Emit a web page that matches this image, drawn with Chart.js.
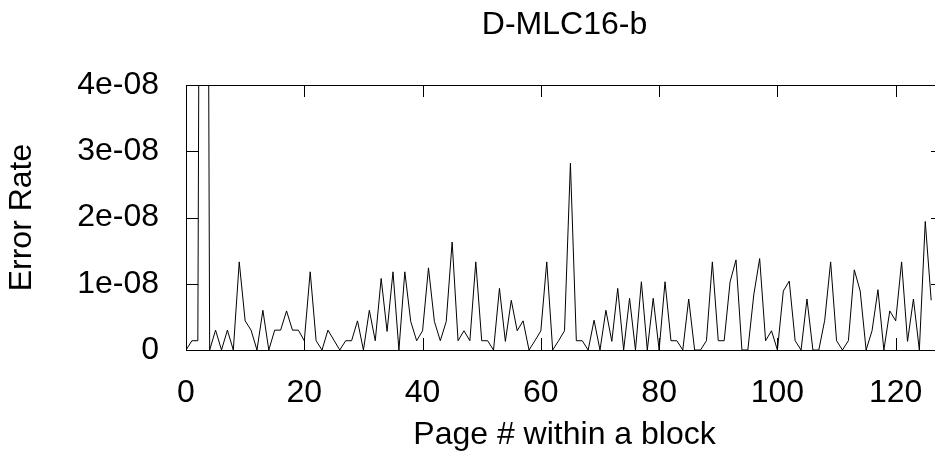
<!DOCTYPE html>
<html>
<head>
<meta charset="utf-8">
<script src="https://cdn.jsdelivr.net/npm/chart.js@4/dist/chart.umd.min.js"></script>
<style>
  html, body { margin: 0; padding: 0; background: #fff; overflow: hidden; }
  #wrap { position: absolute; left: 0; top: 0; width: 960px; height: 456px; }
</style>
</head>
<body>
<div id="wrap"><canvas id="errChart" width="960" height="456"></canvas></div>
<script>
// D-MLC16-b: error rate per page within a block
const chartTitle = 'D-MLC16-b';
const xTitle = 'Page # within a block';
const yTitle = 'Error Rate';
const yTickLabels = ['0', '1e-08', '2e-08', '3e-08', '4e-08'];

// values (page 3 spikes far above the plot, so it is clipped)
const errorRate = [
  0, 1.4e-9, 1.4e-9, 2.5e-7, 0, 3.0e-9, 0, 3.0e-9, 0, 1.33e-8,
  4.4e-9, 3.0e-9, 0, 6.0e-9, 0, 3.0e-9, 3.0e-9, 5.9e-9, 3.0e-9, 3.0e-9,
  1.4e-9, 1.18e-8, 1.4e-9, 0, 3.0e-9, 1.5e-9, 0, 1.4e-9, 1.4e-9, 4.4e-9,
  0, 6.0e-9, 1.4e-9, 1.08e-8, 2.8e-9, 1.18e-8, 0, 1.18e-8, 4.3e-9, 1.4e-9,
  2.9e-9, 1.24e-8, 4.3e-9, 1.4e-9, 4.3e-9, 1.63e-8, 1.4e-9, 2.9e-9, 1.4e-9, 1.33e-8,
  1.4e-9, 1.4e-9, 0, 9.3e-9, 1.3e-9, 7.5e-9, 2.9e-9, 4.4e-9, 0, 1.4e-9,
  2.9e-9, 1.33e-8, 0, 1.4e-9, 2.9e-9, 2.82e-8, 1.4e-9, 1.4e-9, 0, 4.5e-9,
  0, 6.0e-9, 1.3e-9, 9.3e-9, 0, 7.8e-9, 0, 1.03e-8, 0, 7.8e-9,
  0, 1.03e-8, 1.4e-9, 1.4e-9, 0, 7.7e-9, 0, 0, 1.4e-9, 1.33e-8,
  1.4e-9, 1.4e-9, 1.03e-8, 1.36e-8, 0, 0, 8.3e-9, 1.38e-8, 1.4e-9, 2.9e-9,
  0, 8.9e-9, 1.04e-8, 1.4e-9, 0, 7.7e-9, 0, 0, 4.5e-9, 1.33e-8,
  1.4e-9, 0, 1.4e-9, 1.21e-8, 8.9e-9, 0, 2.9e-9, 9.1e-9, 0, 5.9e-9,
  4.4e-9, 1.33e-8, 1.3e-9, 7.7e-9, 0, 1.94e-8, 7.5e-9
];
const pages = Array.from({ length: errorRate.length }, (_, i) => i);

Chart.defaults.font.family = '"Liberation Sans", Arial, sans-serif';
Chart.defaults.color = '#000';

// gnuplot-style frame with inward ticks on all four sides
const frameTicks = {
  id: 'frameTicks',
  afterDraw(chart) {
    const { ctx, chartArea, scales } = chart;
    const { left, right, top, bottom } = chartArea;
    const len = 12;
    ctx.save();
    ctx.strokeStyle = '#000';
    ctx.lineWidth = 1;
    ctx.strokeRect(left + 0.5, top + 0.5, right - left, bottom - top);
    ctx.beginPath();
    scales.x.ticks.forEach(t => {
      const px = Math.round(scales.x.getPixelForValue(t.value)) + 0.5;
      ctx.moveTo(px, bottom); ctx.lineTo(px, bottom - len);
      ctx.moveTo(px, top); ctx.lineTo(px, top + len);
    });
    scales.y.ticks.forEach(t => {
      const py = Math.round(scales.y.getPixelForValue(t.value)) + 0.5;
      ctx.moveTo(left, py); ctx.lineTo(left + len, py);
      ctx.moveTo(right, py); ctx.lineTo(right - len, py);
    });
    ctx.stroke();
    ctx.restore();
  }
};

new Chart(document.getElementById('errChart'), {
  type: 'line',
  data: {
    labels: pages,
    datasets: [{
      data: errorRate,
      borderColor: '#000',
      borderWidth: 1,
      pointRadius: 0,
      tension: 0,
      fill: false
    }]
  },
  options: {
    responsive: false,
    animation: false,
    devicePixelRatio: 1,
    layout: { padding: { left: 0, right: 17, top: 0, bottom: 0 } },
    plugins: {
      legend: { display: false },
      tooltip: { enabled: false },
      title: {
        display: true,
        text: chartTitle,
        fullSize: false,
        color: '#000',
        font: { size: 32, weight: 'normal' },
        padding: { top: 6, bottom: 40.6 }
      }
    },
    scales: {
      x: {
        type: 'linear',
        min: 0,
        max: 128,
        grid: { display: false },
        border: { display: false },
        ticks: {
          stepSize: 20,
          includeBounds: false,
          autoSkip: false,
          maxRotation: 0,
          padding: 16,
          font: { size: 32 }
        },
        title: {
          display: true,
          text: xTitle,
          font: { size: 32 },
          padding: { top: 0, bottom: 2 }
        },
        afterFit(scale) { scale.height = 106; }
      },
      y: {
        min: 0,
        max: 4e-8,
        grid: { display: false },
        border: { display: false },
        ticks: {
          stepSize: 1e-8,
          padding: 19,
          font: { size: 32 },
          callback: (v, i) => yTickLabels[i]
        },
        title: {
          display: true,
          text: yTitle,
          font: { size: 32 },
          padding: { top: 3, bottom: 0 }
        },
        afterFit(scale) { scale.width = 186; }
      }
    }
  },
  plugins: [frameTicks]
});
</script>
</body>
</html>
